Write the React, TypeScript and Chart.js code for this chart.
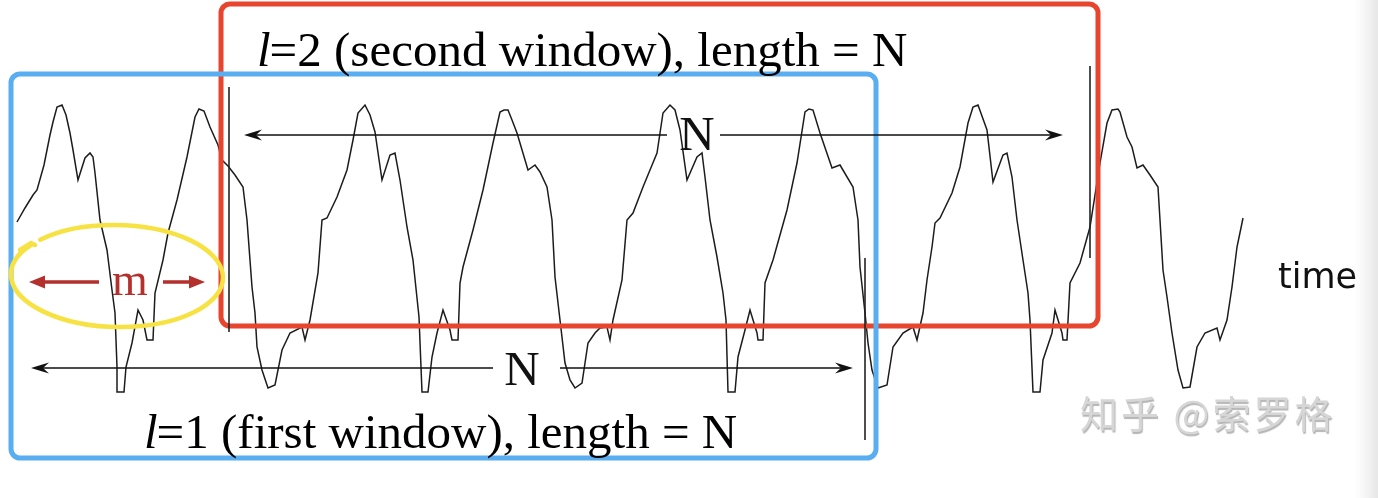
import React, { useEffect, useRef } from 'react';
import { Chart, registerables } from 'chart.js';

Chart.register(...registerables);

const W = 1378;
const H = 498;

// waveform samples (time position, signal level in picture units; y grows downward)
const waveX = [
  17, 25, 33, 37, 44, 50, 53, 57, 62, 66, 70, 73, 78, 85, 90, 93, 95, 100, 107, 112, 115, 117, 117, 124, 126,
  132, 138, 143, 147, 153, 155, 163, 168, 177, 187, 195, 199, 204, 210, 218, 222, 228, 235, 243, 247, 252, 255,
  257, 262, 268, 275, 282, 290, 302, 305, 310, 318, 322, 327, 337, 347, 353, 358, 365, 370, 375, 382, 390, 395,
  400, 407, 413, 419, 422, 428, 432, 437, 443, 450, 452, 458, 460, 463, 473, 483, 493, 500, 504, 508, 512, 517,
  528, 535, 540, 547, 552, 555, 560, 565, 570, 575, 582, 588, 595, 600, 607, 610, 613, 622, 627, 633, 643, 650,
  657, 663, 670, 675, 680, 687, 697, 702, 705, 710, 717, 723, 726, 728, 735, 738, 745, 750, 757, 758, 763, 765,
  773, 787, 797, 805, 809, 813, 820, 832, 840, 853, 858, 860, 865, 868, 872, 878, 887, 893, 903, 913, 917, 923,
  927, 932, 935, 940, 952, 960, 968, 973, 978, 987, 993, 1003, 1007, 1012, 1017, 1023, 1028, 1030, 1033, 1040,
  1043, 1052, 1055, 1062, 1063, 1067, 1070, 1080, 1090, 1100, 1107, 1112, 1118, 1120, 1127, 1132, 1137, 1143,
  1150, 1158, 1160, 1163, 1167, 1172, 1178, 1183, 1190, 1197, 1205, 1217, 1220, 1227, 1232, 1237, 1242, 1243,
];
const waveY = [
  222, 208, 195, 190, 165, 135, 122, 107, 105, 115, 133, 150, 180, 158, 153, 157, 173, 220, 250, 290, 313, 367, 392, 392, 367,
  343, 310, 320, 340, 340, 293, 260, 233, 200, 157, 117, 109, 111, 127, 145, 160, 166, 175, 187, 220, 287, 313,
  347, 370, 388, 385, 350, 333, 327, 340, 320, 273, 220, 218, 197, 170, 140, 113, 105, 115, 132, 180, 155, 153,
  180, 227, 260, 317, 392, 392, 357, 333, 310, 330, 340, 340, 283, 267, 230, 190, 143, 112, 110, 110, 120, 133,
  170, 165, 172, 187, 220, 277, 320, 363, 380, 388, 383, 343, 333, 328, 327, 340, 320, 280, 220, 213, 187, 170,
  153, 113, 105, 110, 130, 180, 157, 153, 177, 220, 257, 293, 320, 392, 392, 357, 330, 310, 333, 340, 340, 283,
  260, 210, 163, 112, 109, 110, 133, 168, 165, 187, 220, 267, 313, 343, 370, 388, 385, 347, 333, 327, 340, 313,
  280, 247, 223, 218, 193, 167, 123, 107, 105, 130, 182, 155, 153, 177, 220, 260, 293, 320, 392, 392,
  360, 333, 310, 333, 340, 340, 283, 263, 227, 163, 123, 110, 109, 112, 137, 147, 168, 165,
  175, 187, 220, 270, 297, 333, 370, 388, 387, 347, 333, 328, 340, 320, 287, 247, 223, 218,
];

// annotation texts
const windowItalic = ['l', 'l'];
const windowTexts = ['=2 (second window), length = N', '=1 (first window), length = N'];
const spanLabel = 'N';
const shiftLabel = 'm';
const axisLabel = 'time';
const watermark = '知乎 @索罗格';

// geometry of the annotation layer (picture units)
const boxes = [
  { x0: 221, y0: 4, x1: 1098, y1: 326, color: '#e8452f' },
  { x0: 11, y0: 74, x1: 876, y1: 458, color: '#58aef0' },
];
const markers = [
  { x: 229, y0: 87, y1: 332 },
  { x: 865, y0: 258, y1: 440 },
  { x: 1090, y0: 66, y1: 258 },
];
const spanArrows = [
  { x0: 244, x1: 1063, y: 135, gap0: 667, gap1: 720, labelX: 697, labelY: 150 },
  { x0: 31, x1: 853, y: 368, gap0: 493, gap1: 560, labelX: 522, labelY: 385 },
];
const windowTextPos = [
  { x: 257, y: 66 },
  { x: 144, y: 448 },
];

export default function App() {
  const ref = useRef<HTMLCanvasElement | null>(null);

  useEffect(() => {
    const canvas = ref.current;
    if (!canvas) return;

    const decor = {
      id: 'decor',
      beforeDraw(chart: any) {
        const ctx = chart.ctx;
        ctx.save();
        ctx.fillStyle = '#ffffff';
        ctx.fillRect(0, 0, chart.width, chart.height);
        const g = ctx.createLinearGradient(1354, 0, 1378, 0);
        g.addColorStop(0, 'rgba(238,238,238,0)');
        g.addColorStop(1, 'rgba(230,230,230,1)');
        ctx.fillStyle = g;
        ctx.fillRect(1354, 0, 24, chart.height);
        ctx.restore();
      },
      afterDatasetsDraw(chart: any) {
        const ctx = chart.ctx;
        const sx = chart.scales.x;
        const sy = chart.scales.y;
        const X = (v: number) => sx.getPixelForValue(v);
        const Y = (v: number) => sy.getPixelForValue(v);
        ctx.save();

        // window boxes
        boxes.forEach((b) => {
          ctx.beginPath();
          ctx.lineWidth = 5;
          ctx.strokeStyle = b.color;
          ctx.roundRect(X(b.x0), Y(b.y0), X(b.x1) - X(b.x0), Y(b.y1) - Y(b.y0), 9);
          ctx.stroke();
        });

        // window boundary markers
        ctx.strokeStyle = '#222';
        ctx.lineWidth = 1.6;
        markers.forEach((m) => {
          ctx.beginPath();
          ctx.moveTo(X(m.x), Y(m.y0));
          ctx.lineTo(X(m.x), Y(m.y1));
          ctx.stroke();
        });

        // span arrows with N
        const stealth = (tx: number, ty: number, dir: number) => {
          ctx.beginPath();
          ctx.moveTo(tx, ty);
          ctx.lineTo(tx - dir * 18, ty - 5.5);
          ctx.lineTo(tx - dir * 12, ty);
          ctx.lineTo(tx - dir * 18, ty + 5.5);
          ctx.closePath();
          ctx.fill();
        };
        ctx.fillStyle = '#111';
        ctx.strokeStyle = '#111';
        ctx.lineWidth = 1.4;
        spanArrows.forEach((a) => {
          ctx.beginPath();
          ctx.moveTo(X(a.x0) + 6, Y(a.y));
          ctx.lineTo(X(a.gap0), Y(a.y));
          ctx.moveTo(X(a.gap1), Y(a.y));
          ctx.lineTo(X(a.x1) - 6, Y(a.y));
          ctx.stroke();
          stealth(X(a.x0), Y(a.y), -1);
          stealth(X(a.x1), Y(a.y), 1);
          ctx.font = '49px "Liberation Serif", serif';
          ctx.textAlign = 'center';
          ctx.textBaseline = 'alphabetic';
          ctx.fillText(spanLabel, X(a.labelX), Y(a.labelY));
        });

        // window captions
        windowTexts.forEach((t, i) => {
          const p = windowTextPos[i];
          ctx.textAlign = 'left';
          ctx.fillStyle = '#000';
          ctx.font = 'italic 49px "Liberation Serif", serif';
          ctx.fillText(windowItalic[i], X(p.x), Y(p.y));
          const w = ctx.measureText(windowItalic[i]).width;
          ctx.font = '49px "Liberation Serif", serif';
          ctx.fillText(t, X(p.x) + w - 1, Y(p.y));
        });

        // shift m arrows
        const red = '#b3302c';
        ctx.strokeStyle = red;
        ctx.fillStyle = red;
        ctx.lineWidth = 3.5;
        const my = Y(282);
        ctx.beginPath();
        ctx.moveTo(X(99), my);
        ctx.lineTo(X(42), my);
        ctx.moveTo(X(163), my);
        ctx.lineTo(X(192), my);
        ctx.stroke();
        ctx.beginPath();
        ctx.moveTo(X(29), my);
        ctx.lineTo(X(45), my - 6.5);
        ctx.lineTo(X(45), my + 6.5);
        ctx.closePath();
        ctx.fill();
        ctx.beginPath();
        ctx.moveTo(X(205), my);
        ctx.lineTo(X(189), my - 6.5);
        ctx.lineTo(X(189), my + 6.5);
        ctx.closePath();
        ctx.fill();
        ctx.font = '46px "Liberation Serif", serif';
        ctx.textAlign = 'center';
        ctx.fillText(shiftLabel, X(130), Y(295));

        // yellow hand-drawn loop
        ctx.strokeStyle = '#f7e244';
        ctx.lineWidth = 4.5;
        ctx.lineCap = 'round';
        ctx.beginPath();
        ctx.ellipse(X(117), Y(276), 106, 51, 0.02, Math.PI + 0.75, Math.PI + 0.75 + Math.PI * 2 - 0.12);
        ctx.stroke();
        ctx.beginPath();
        ctx.moveTo(X(20), Y(250));
        ctx.lineTo(X(31), Y(243));
        ctx.lineTo(X(35), Y(245));
        ctx.stroke();

        // time label
        ctx.fillStyle = '#111';
        ctx.font = '35px "DejaVu Sans", sans-serif';
        ctx.textAlign = 'left';
        ctx.fillText(axisLabel, X(1278), Y(288));

        // watermark
        ctx.font = '38px "Noto Sans CJK SC", sans-serif';
        (ctx as any).letterSpacing = '3px';
        ctx.fillStyle = '#d6d6d6';
        ctx.shadowColor = 'rgba(120,120,120,0.55)';
        ctx.shadowOffsetX = 1;
        ctx.shadowOffsetY = 1.5;
        ctx.shadowBlur = 1;
        ctx.fillText(watermark, X(1080), Y(428));
        ctx.restore();
      },
    };

    const chart = new Chart(canvas, {
      type: 'line',
      data: {
        datasets: [
          {
            data: waveX.map((x, i) => ({ x, y: waveY[i] })),
            borderColor: '#1c1c1c',
            borderWidth: 1.5,
            pointRadius: 0,
            tension: 0,
            fill: false,
          },
        ],
      },
      options: {
        responsive: false,
        animation: false,
        devicePixelRatio: 1,
        layout: { padding: 0 },
        plugins: { legend: { display: false }, tooltip: { enabled: false } },
        scales: {
          x: { type: 'linear', min: 0, max: W, display: false },
          y: { type: 'linear', min: 0, max: H, reverse: true, display: false },
        },
      },
      plugins: [decor],
    });
    return () => chart.destroy();
  }, []);

  return (
    <div style={{ position: 'fixed', left: 0, top: 0, width: W, height: H, background: '#fff' }}>
      <canvas ref={ref} width={W} height={H} style={{ display: 'block', width: W, height: H }} />
    </div>
  );
}
